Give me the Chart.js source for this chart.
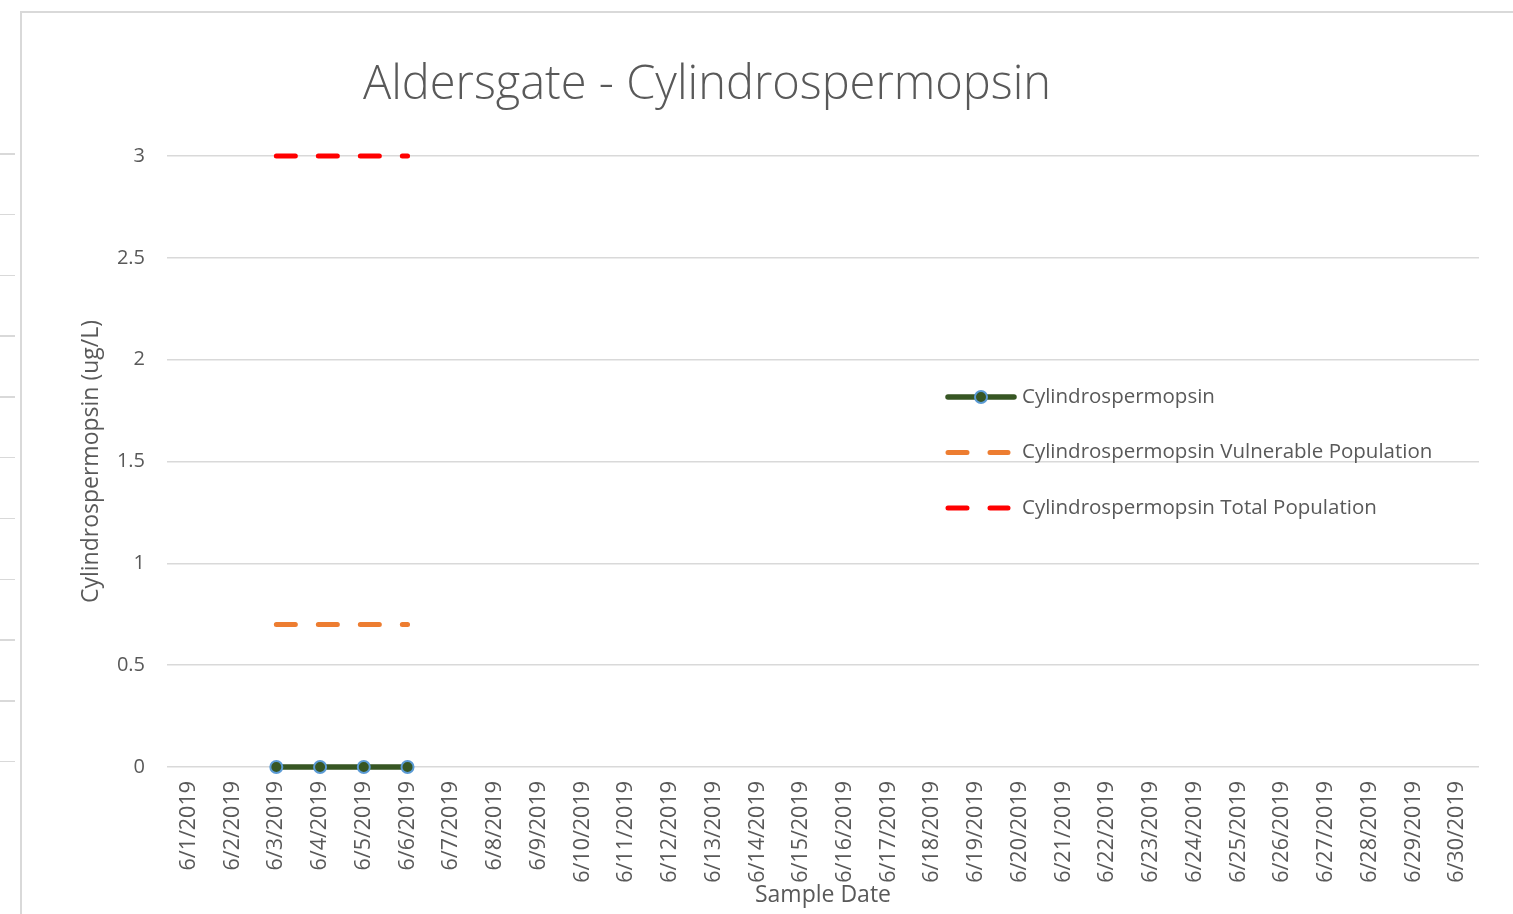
<!DOCTYPE html>
<html>
<head>
<meta charset="utf-8">
<title>Aldersgate - Cylindrospermopsin</title>
<script src="https://cdn.jsdelivr.net/npm/chart.js@4/dist/chart.umd.min.js"></script>
<style>
  html, body { margin: 0; padding: 0; background: #fff; overflow: hidden; }
  body { width: 1513px; height: 914px; position: relative; }
  /* neighbouring chart edge + this chart's frame */
  #strip {
    position: absolute; left: 0; top: 153px; width: 15px; height: 620px;
    background: repeating-linear-gradient(to bottom, #d9d9d9 0, #d9d9d9 1.5px, transparent 1.5px, transparent 60.8px);
  }
  #frame {
    position: absolute; left: 20px; top: 11px; width: 1500px; height: 910px;
    border-left: 2px solid #d9d9d9; border-top: 2px solid #d9d9d9;
  }
  #wrap { position: absolute; left: 23px; top: 13px; width: 1490px; height: 901px; }
</style>
</head>
<body>
<div id="strip"></div>
<div id="frame"></div>
<div id="wrap"><canvas id="chart"></canvas></div>
<script>
const dates = [
  '6/1/2019', '6/2/2019', '6/3/2019', '6/4/2019', '6/5/2019', '6/6/2019', '6/7/2019', '6/8/2019',
  '6/9/2019', '6/10/2019', '6/11/2019', '6/12/2019', '6/13/2019', '6/14/2019', '6/15/2019',
  '6/16/2019', '6/17/2019', '6/18/2019', '6/19/2019', '6/20/2019', '6/21/2019', '6/22/2019',
  '6/23/2019', '6/24/2019', '6/25/2019', '6/26/2019', '6/27/2019', '6/28/2019', '6/29/2019',
  '6/30/2019'
];

// measured values (ug/L), empty days are null
const cylindro = [null, null, 0, 0, 0, 0, null, null, null, null, null, null, null, null, null,
  null, null, null, null, null, null, null, null, null, null, null, null, null, null, null];
const vulnerableLimit = [null, null, 0.7, 0.7, 0.7, 0.7, null, null, null, null, null, null, null, null, null,
  null, null, null, null, null, null, null, null, null, null, null, null, null, null, null];
const totalLimit = [null, null, 3, 3, 3, 3, null, null, null, null, null, null, null, null, null,
  null, null, null, null, null, null, null, null, null, null, null, null, null, null, null];

const yTicks = [0, 0.5, 1, 1.5, 2, 2.5, 3];

const textColor = '#595959';
const gridColor = '#d9d9d9';
const baseFont = "'Open Sans', sans-serif";

// Excel-style title, offset left of the canvas centre
const titlePlugin = {
  id: 'excelTitle',
  afterDraw(chart) {
    const c = chart.ctx;
    c.save();
    c.font = "300 47px 'Open Sans', sans-serif";
    c.fillStyle = textColor;
    c.textAlign = 'center';
    c.textBaseline = 'alphabetic';
    c.fillText('Aldersgate - Cylindrospermopsin', 684, 86);
    c.restore();
  }
};

// legend drawn inside the plot area, like the original
const insideLegend = {
  id: 'insideLegend',
  afterDraw(chart) {
    const c = chart.ctx;
    const area = chart.chartArea;
    const x0 = area.left + 779;
    const y0 = area.top + 241;
    const rowGap = 55.5;
    c.save();
    chart.data.datasets.forEach((ds, i) => {
      const y = y0 + i * rowGap;
      c.lineWidth = ds.borderWidth;
      c.strokeStyle = ds.borderColor;
      c.lineCap = 'round';
      c.setLineDash(ds.borderDash ? [19, 23] : []);
      c.beginPath();
      c.moveTo(x0 + 2, y);
      c.lineTo(ds.borderDash ? x0 + 62 : x0 + 68, y);
      c.stroke();
      c.setLineDash([]);
      if (ds.pointRadius > 0) {
        c.beginPath();
        c.arc(x0 + 35, y, ds.pointRadius, 0, Math.PI * 2);
        c.fillStyle = ds.pointBackgroundColor;
        c.fill();
        c.lineWidth = ds.pointBorderWidth;
        c.strokeStyle = ds.pointBorderColor;
        c.stroke();
      }
      c.font = "20.5px 'Open Sans', sans-serif";
      c.fillStyle = textColor;
      c.textAlign = 'left';
      c.textBaseline = 'middle';
      c.fillText(ds.label, x0 + 76, y);
    });
    c.restore();
  }
};

new Chart(document.getElementById('chart').getContext('2d'), {
  type: 'line',
  data: {
    labels: dates,
    datasets: [
      {
        label: 'Cylindrospermopsin',
        data: cylindro,
        borderColor: '#375623',
        borderWidth: 5.5,
        pointRadius: 6,
        pointBackgroundColor: '#375623',
        pointBorderColor: '#5b9bd5',
        pointBorderWidth: 2,
        borderCapStyle: 'round',
        clip: false,
        order: 1
      },
      {
        label: 'Cylindrospermopsin Vulnerable Population',
        data: vulnerableLimit,
        borderColor: '#ed7d31',
        borderWidth: 5,
        borderDash: [19, 23],
        borderCapStyle: 'round',
        pointRadius: 0,
        clip: false,
        order: 2
      },
      {
        label: 'Cylindrospermopsin Total Population',
        data: totalLimit,
        borderColor: '#ff0000',
        borderWidth: 5,
        borderDash: [19, 23],
        borderCapStyle: 'round',
        pointRadius: 0,
        clip: false,
        order: 3
      }
    ]
  },
  options: {
    responsive: true,
    maintainAspectRatio: false,
    animation: false,
    spanGaps: false,
    layout: {
      padding: { top: 143, right: 34, bottom: 0, left: 0 }
    },
    plugins: {
      legend: { display: false },
      title: { display: false },
      tooltip: { enabled: false }
    },
    scales: {
      x: {
        offset: true,
        grid: { display: false, drawTicks: false },
        border: { display: false },
        afterFit: (scale) => { scale.height = 147; },
        ticks: {
          color: textColor,
          font: { size: 21.5, family: baseFont },
          minRotation: 90,
          maxRotation: 90,
          autoSkip: false,
          padding: 14
        },
        title: {
          display: true,
          text: 'Sample Date',
          color: textColor,
          font: { size: 23, family: baseFont },
          padding: { top: 0, bottom: 5 }
        }
      },
      y: {
        min: 0,
        max: 3,
        afterFit: (scale) => { scale.width = 144; },
        afterBuildTicks: (scale) => { scale.ticks = yTicks.map(v => ({ value: v })); },
        grid: { color: gridColor, lineWidth: 1.5, drawTicks: false },
        border: { display: false },
        ticks: {
          color: textColor,
          font: { size: 20, family: baseFont },
          padding: 22,
          callback: (value) => String(value)
        },
        title: {
          display: true,
          text: 'Cylindrospermopsin (ug/L)',
          color: textColor,
          font: { size: 23, family: baseFont },
          padding: { top: 55, bottom: 0 }
        }
      }
    }
  },
  plugins: [titlePlugin, insideLegend]
});
</script>
</body>
</html>
